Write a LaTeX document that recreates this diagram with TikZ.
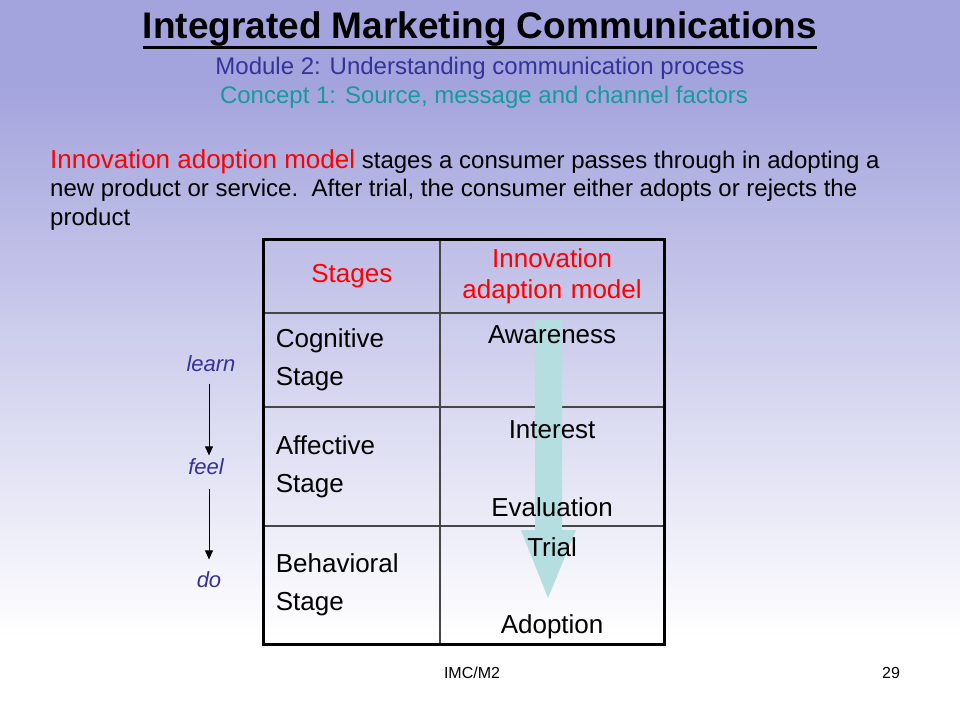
\documentclass[tikz,border=0pt]{standalone}
\usepackage{fontspec}
\setmainfont{Liberation Sans}
\usetikzlibrary{matrix,positioning,calc,arrows.meta}

\definecolor{bgtop}{RGB}{163,163,221}
\definecolor{moduleblue}{RGB}{51,51,153}
\definecolor{conceptteal}{RGB}{20,155,155}
\definecolor{flowteal}{RGB}{180,222,224}
\definecolor{gridgray}{RGB}{70,70,70}

\begin{document}
\begin{tikzpicture}[x=1pt, y=-1pt,
    2d-arr/.style={matrix of nodes, row sep=-\pgflinewidth, column sep=-\pgflinewidth, nodes={draw}},
    headcell/.style={text=red, align=center, text width=199pt, inner xsep=12pt, font=\fontsize{26}{31}\selectfont},
    stagecell/.style={align=left, text width=152pt, inner xsep=12pt, font=\fontsize{26}{38}\selectfont},
    modeltxt/.style={anchor=base, inner sep=0pt, font=\fontsize{26}{31}\selectfont},
    flowlbl/.style={text=moduleblue, font=\fontsize{22}{26}\selectfont\itshape},
    flowarr/.style={-{Triangle[width=8pt,length=9pt]}, line width=0.9pt}
  ]
\useasboundingbox (0,0) rectangle (960,720);

% Slide background
\fill[white] (0,0) rectangle (960,720);
\fill[bgtop] (0,0) rectangle (960,80);
\shade[top color=bgtop, bottom color=white] (0,79) rectangle (960,640);

% Headings
\node[anchor=base, inner sep=0pt, font=\fontsize{37}{40}\selectfont\bfseries] (title) at (480,38) {Integrated Marketing Communications};
\draw[line width=3pt] ($(title.base west)+(0,9)$) -- ($(title.base east)+(0,9)$);
\node[anchor=base, text=moduleblue, font=\fontsize{24}{28}\selectfont] (module) at (480,74) {Module 2: Understanding communication process};
\node[anchor=base, text=conceptteal, font=\fontsize{24}{28}\selectfont] (concept) at (484,103) {Concept 1: Source, message and channel factors};

% Intro text
\node[anchor=north west, inner sep=0pt, align=left, font=\fontsize{24}{28.5}\selectfont] (intro) at (50,149) {%
{\color{red}\fontsize{26}{28.5}\selectfont Innovation adoption model} stages a consumer passes through in adopting a\\
new product or service.\ \ After trial, the consumer either adopts or rejects the\\
product};

% Stages table
\matrix (tbl) [2d-arr, anchor=north west, inner sep=0pt, nodes in empty cells,
    nodes={draw=gridgray, line width=1.2pt, anchor=center},
    column 1/.style={nodes={minimum width=176pt}},
    column 2/.style={nodes={minimum width=223pt}},
    row 1/.style={nodes={minimum height=73pt}},
    row 2/.style={nodes={minimum height=93pt}},
    row 3/.style={nodes={minimum height=118pt}},
    row 4/.style={nodes={minimum height=118pt}}] at (263,239) {
|[headcell, text width=152pt]| Stages & |[headcell]| Innovation adaption model \\
|[stagecell]| Cognitive Stage & \\
|[stagecell]| Affective Stage & \\
|[stagecell]| Behavioral Stage & \\
};
\draw[line width=3pt] (tbl-1-1.north west) rectangle (tbl-4-2.south east);

% Adoption arrow
\fill[flowteal] (535,320) -- (562,320) -- (562,530) -- (576,530) -- (548,598) -- (521,530) -- (535,530) -- cycle;

\node[modeltxt] (aware) at ($(tbl-2-2.north)+(0,30)$) {Awareness};
\node[modeltxt] (interest) at ($(tbl-3-2.north)+(0,32)$) {Interest};
\node[modeltxt] (eval) at ($(tbl-3-2.south)+(0,-10)$) {Evaluation};
\node[modeltxt] (trial) at ($(tbl-4-2.north)+(0,31)$) {Trial};
\node[modeltxt] (adopt) at ($(tbl-4-2.south)+(0,-11)$) {Adoption};

% learn - feel - do
\node[flowlbl] (learn) at (211,364) {learn};
\node[flowlbl] (feel) at (206,467) {feel};
\node[flowlbl] (do) at (209,580) {do};
\draw[flowarr, shorten <=8pt] (learn.south -| do) -- (feel.north -| do);
\draw[flowarr, shorten <=10pt, shorten >=9pt] (feel.south -| do) -- (do.north);

% Footer
\node[anchor=base, font=\fontsize{16}{19}\selectfont] (foot) at (472,678) {IMC/M2};
\node[anchor=base, font=\fontsize{16}{19}\selectfont] (page) at (891,678) {29};

\end{tikzpicture}
\end{document}
